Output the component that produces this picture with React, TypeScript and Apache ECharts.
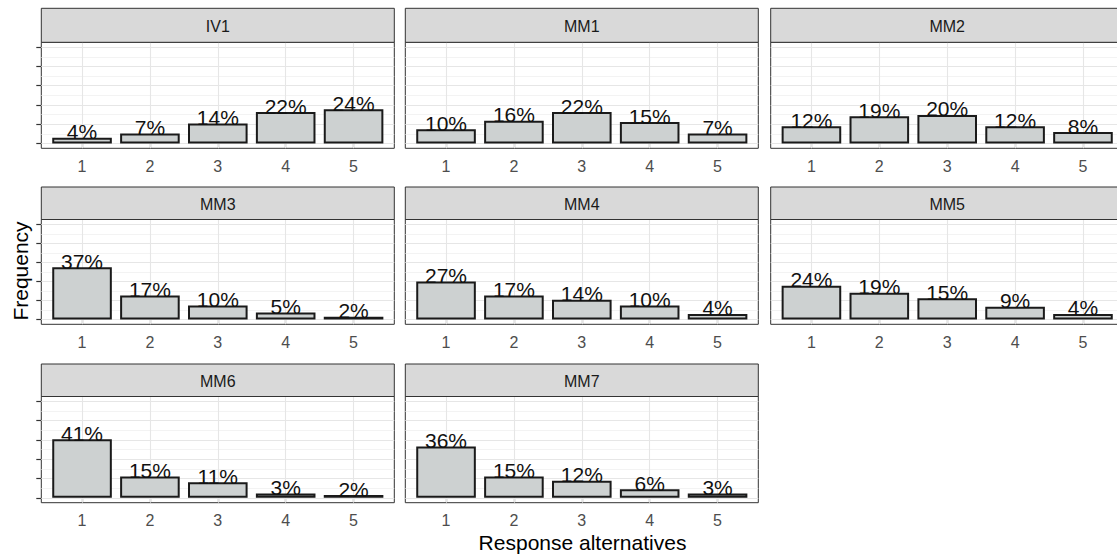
import React, { useEffect, useRef } from "react";
import * as echarts from "echarts";

// ---- data ----
const panelNames = ["IV1", "MM1", "MM2", "MM3", "MM4", "MM5", "MM6", "MM7"];
const categories = [1, 2, 3, 4, 5];
const IV1 = [4, 7, 14, 22, 24];
const MM1 = [10, 16, 22, 15, 7];
const MM2 = [12, 19, 20, 12, 8];
const MM3 = [37, 17, 10, 5, 2];
const MM4 = [27, 17, 14, 10, 4];
const MM5 = [24, 19, 15, 9, 4];
const MM6 = [41, 15, 11, 3, 2];
const MM7 = [36, 15, 12, 6, 3];
const panelValues = [IV1, MM1, MM2, MM3, MM4, MM5, MM6, MM7];
const yTicks = [0, 13.5, 27, 40.5, 54, 67.5];
const yMinor = [6.75, 20.25, 33.75, 47.25, 60.75];
const xTitle = "Response alternatives";
const yTitle = "Frequency";

// ---- layout ----
const W = 1117;
const H = 557;
const FONT = "'Liberation Sans', Arial, Helvetica, sans-serif";
const colLeft = [41.3, 405.3, 770.7];
const panelW = 353;
const stripTop = [8.3, 187, 364];
const panelTop = [42.3, 219.5, 396.5];
const panelBottom = [148.3, 324.3, 502.7];
const xMin = 0.4;
const xMax = 5.6;
const yMin = -3.375;
const yMax = 70.875;

export default function App() {
  const ref = useRef<HTMLDivElement>(null);

  useEffect(() => {
    if (!ref.current) return;
    const chart = echarts.init(ref.current, undefined, { renderer: "svg" });

    const grids: any[] = [];
    const xAxes: any[] = [];
    const yAxes: any[] = [];
    const series: any[] = [];
    const graphics: any[] = [];

    const unit = panelW / (xMax - xMin);
    const barWidth = unit * 0.9 - 1.5;

    panelNames.forEach((name, i) => {
      const r = Math.floor(i / 3);
      const c = i % 3;
      const top = panelTop[r];
      const h = panelBottom[r] - panelTop[r];
      grids.push({
        left: colLeft[c],
        top,
        width: panelW,
        height: h,
        show: true,
        backgroundColor: "#ffffff",
        borderColor: "#333333",
        borderWidth: 1,
        containLabel: false,
        outerBoundsMode: "none",
      });
      xAxes.push({
        gridIndex: i,
        type: "value",
        min: xMin,
        max: xMax,
        axisLine: { show: false },
        splitLine: { show: false },
        axisTick: {
          show: true,
          customValues: categories,
          length: 5,
          lineStyle: { color: "#333333", width: 1.2 },
        },
        axisLabel: {
          show: true,
          customValues: categories,
          color: "#4d4d4d",
          fontSize: 16,
          margin: 10,
          fontFamily: FONT,
        },
      });
      yAxes.push({
        gridIndex: i,
        type: "value",
        min: yMin,
        max: yMax,
        axisLine: { show: false },
        splitLine: { show: false },
        axisTick: {
          show: c === 0,
          customValues: yTicks,
          length: 5,
          lineStyle: { color: "#333333", width: 1.2 },
        },
        axisLabel: { show: false, customValues: yTicks },
      });

      const gridLines: any[] = [];
      yMinor.forEach((v) =>
        gridLines.push({ yAxis: v, lineStyle: { color: "#f0f0f0", width: 0.8, type: "solid" } })
      );
      yTicks.forEach((v) =>
        gridLines.push({ yAxis: v, lineStyle: { color: "#e6e6e6", width: 1.1, type: "solid" } })
      );
      categories.forEach((v) =>
        gridLines.push({ xAxis: v, lineStyle: { color: "#e6e6e6", width: 1.1, type: "solid" } })
      );

      series.push({
        type: "bar",
        name,
        xAxisIndex: i,
        yAxisIndex: i,
        data: categories.map((cat, k) => [cat, panelValues[i][k]]),
        barWidth,
        z: 3,
        itemStyle: { color: "#cdd1d1", borderColor: "#1a1a1a", borderWidth: 2 },
        label: {
          show: true,
          position: "top",
          distance: -4.5,
          formatter: (p: any) => `${p.value[1]}%`,
          fontSize: 21,
          color: "#111111",
          fontFamily: FONT,
        },
        markLine: {
          silent: true,
          symbol: "none",
          z: 1,
          animation: false,
          label: { show: false },
          emphasis: { disabled: true },
          data: gridLines,
        },
      });

      // strip
      graphics.push({
        type: "rect",
        z: 10,
        shape: { x: colLeft[c], y: stripTop[r], width: panelW, height: panelTop[r] - stripTop[r] },
        style: { fill: "#d9d9d9", stroke: "#333333", lineWidth: 1 },
      });
      graphics.push({
        type: "text",
        z: 11,
        x: colLeft[c] + panelW / 2,
        y: (stripTop[r] + panelTop[r]) / 2 + 1,
        style: {
          text: name,
          fontSize: 16,
          fontFamily: FONT,
          fill: "#1a1a1a",
          align: "center",
          verticalAlign: "middle",
        },
      });
    });

    graphics.push({
      type: "text",
      x: 20,
      y: 271,
      rotation: Math.PI / 2,
      style: {
        text: yTitle,
        fontSize: 21,
        fontFamily: FONT,
        fill: "#000000",
        align: "center",
        verticalAlign: "middle",
      },
    });
    graphics.push({
      type: "text",
      x: 582.5,
      y: 542,
      style: {
        text: xTitle,
        fontSize: 21,
        fontFamily: FONT,
        fill: "#000000",
        align: "center",
        verticalAlign: "middle",
      },
    });

    chart.setOption({
      animation: false,
      backgroundColor: "#ffffff",
      grid: grids,
      xAxis: xAxes,
      yAxis: yAxes,
      series,
      graphic: { elements: graphics },
    });

    return () => chart.dispose();
  }, []);

  return (
    <div
      ref={ref}
      style={{ position: "fixed", left: 0, top: 0, width: W, height: H, background: "#fff" }}
    />
  );
}
